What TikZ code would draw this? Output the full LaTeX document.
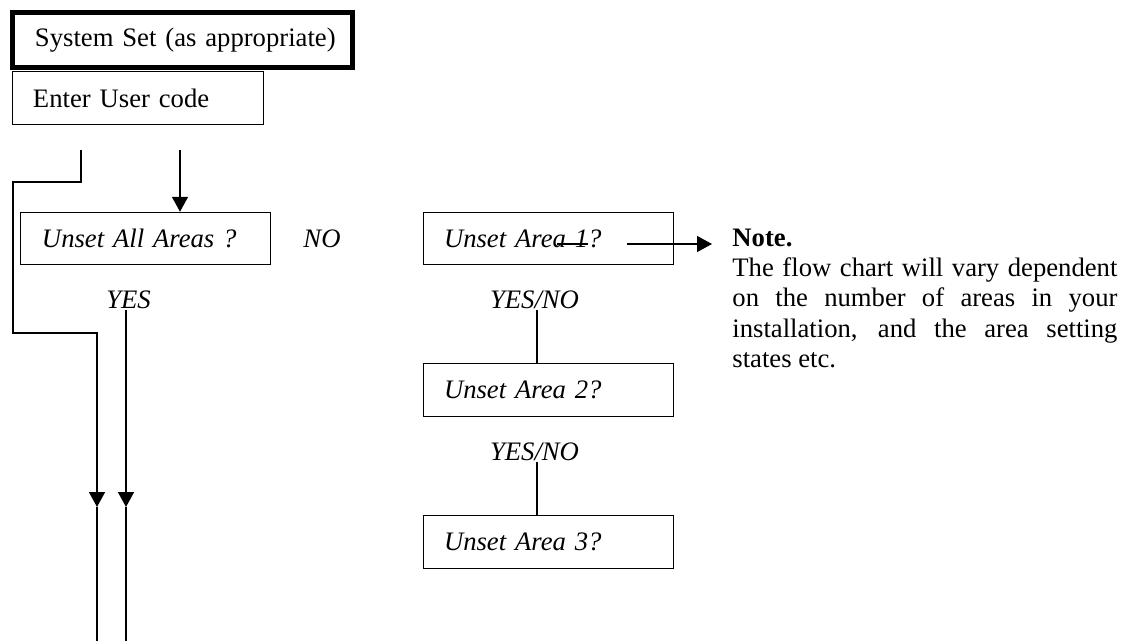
\documentclass[tikz,border=0pt]{standalone}
\usepackage{fontspec}
\setmainfont{Liberation Serif}
\usetikzlibrary{arrows.meta}
\begin{document}
\begin{tikzpicture}[x=0.45pt,y=-0.45pt,
  every node/.style={font=\fontsize{12pt}{13.8pt}\selectfont, inner sep=0pt},
  it/.style={font=\fontsize{12pt}{13.8pt}\selectfont\itshape},
  ln/.style={line width=0.675pt},
  box/.style={draw, line width=0.675pt, align=left, inner ysep=0pt},
  abox/.style={box, it, minimum width=112.5pt, text width=94.05pt, inner xsep=9.225pt},
  lbl/.style={it, anchor=base},
  notetxt/.style={anchor=base west},
  arr/.style={ln, -{Triangle[length=6.75pt,width=7.2pt]}},
]
\useasboundingbox (0,0) rectangle (1124,641);

% boxes
\node[box, line width=2.25pt, minimum width=152.775pt, minimum height=24.75pt,
      text width=132.525pt, inner xsep=10.125pt] (sys) at (182.25,40) {\mbox{System Set (as appropriate)}};
\node[box, minimum width=112.95pt, minimum height=23.85pt, text width=94.5pt,
      inner xsep=9.225pt] (user) at (138,98) {Enter User code};
\node[box, it, minimum width=112.5pt, minimum height=23.4pt, text width=93.15pt,
      inner xsep=9.675pt] (u0) at (145.5,238.5) {Unset All Areas ?};
\node[abox, minimum height=23.4pt] (u1) at (548.5,238.5) {Unset Area 1?};
\node[abox, minimum height=23.85pt] (u2) at (548.5,390) {Unset Area 2?};
\node[abox, minimum height=23.85pt] (u3) at (548.5,542) {Unset Area 3?};

% strike-through in "Area 1"
\draw[ln] (557,244) -- (588,244);

% labels
\node[lbl] (no) at (322,247) {NO};
\node[lbl] (yes) at (128.5,308) {YES};
\node[lbl] (yn1) at (534.5,308) {YES/NO};
\node[lbl] (yn2) at (534.5,460) {YES/NO};

% connectors
\coordinate (a0) at (81,150);
\coordinate (a1) at (97,507);
\coordinate (aE) at (97,641);
\draw[arr] (a0) |- (13,182) |- (97,333) -- (a1);
\draw[ln] (a1) -- (aE);

\coordinate (b0) at (180,150);
\draw[arr] (b0) -- (b0 |- u0.north);

\coordinate (c0) at (126,310);
\coordinate (c1) at (126,507);
\coordinate (cE) at (126,641);
\draw[arr] (c0) -- (c1);
\draw[ln] (c1) -- (cE);

\coordinate (d1) at (537,310);
\draw[ln] (d1) -- (d1 |- u2.north);
\coordinate (d2) at (537,462);
\draw[ln] (d2) -- (d2 |- u3.north);

\coordinate (e0) at (627,244);
\coordinate (e1) at (712,244);
\draw[arr] (e0) -- (e1);

% note
\node[notetxt] (n0) at (732,246) {\bfseries Note.};
\node[notetxt] (n1) at (732,276) {\makebox[173.25pt][s]{The flow chart will vary dependent}};
\node[notetxt] (n2) at (732,306) {\makebox[173.25pt][s]{on the number of areas in your}};
\node[notetxt] (n3) at (732,337) {\makebox[173.25pt][s]{installation, and the area setting}};
\node[notetxt] (n4) at (732,367) {states etc.};
\end{tikzpicture}
\end{document}
